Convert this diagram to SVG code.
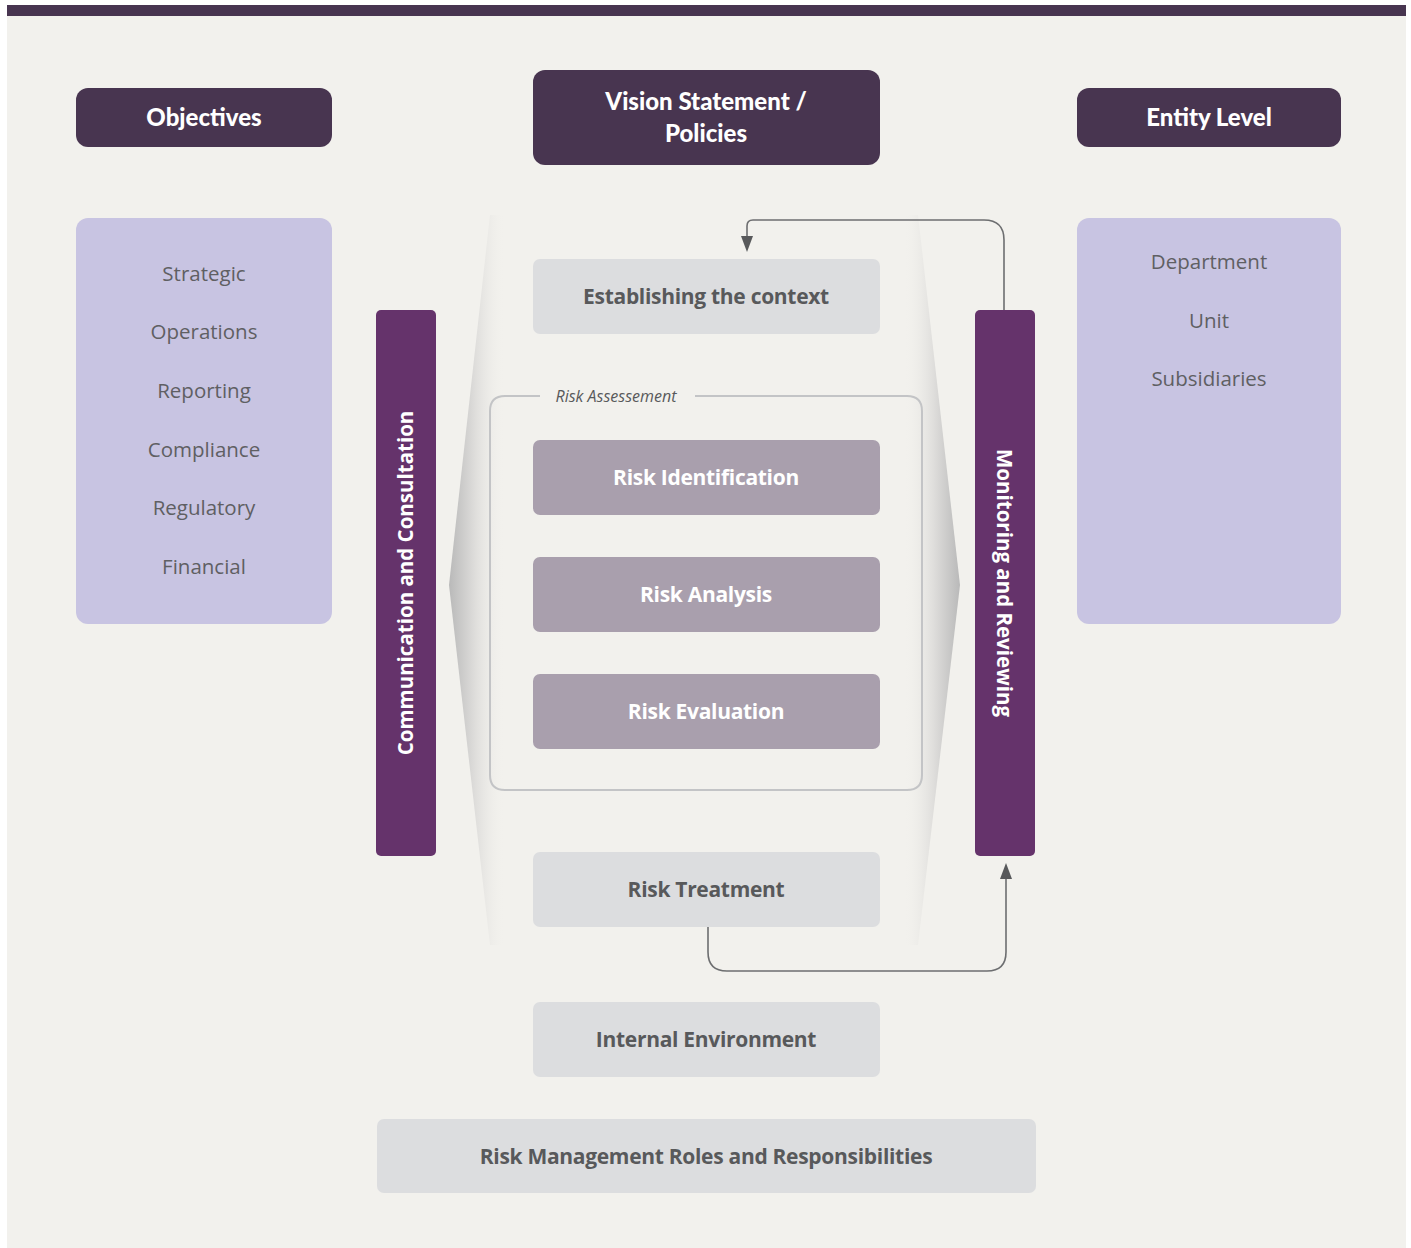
<svg xmlns="http://www.w3.org/2000/svg" width="1411" height="1248" viewBox="0 0 1411 1248">
<defs>
<linearGradient id="gl" gradientUnits="userSpaceOnUse" x1="449" y1="0" x2="505" y2="0">
<stop offset="0" stop-color="#b9b9b9"/><stop offset="0.45" stop-color="#dddcda"/><stop offset="1" stop-color="#f2f1ed" stop-opacity="0"/>
</linearGradient>
<linearGradient id="gr" gradientUnits="userSpaceOnUse" x1="960" y1="0" x2="904" y2="0">
<stop offset="0" stop-color="#b9b9b9"/><stop offset="0.45" stop-color="#dddcda"/><stop offset="1" stop-color="#f2f1ed" stop-opacity="0"/>
</linearGradient>
</defs>
<style>
.hdr{fill:#483550}
.ht{font-family:Lato,"Open Sans",sans-serif;font-weight:900;font-size:24px;fill:#ffffff;text-anchor:middle}
.lav{fill:#c8c4e2}
.lt{font-family:"Open Sans","Noto Sans",sans-serif;font-size:20.5px;fill:#5f5f63;text-anchor:middle}
.bar{fill:#65336b}
.vt{font-family:"Open Sans","Noto Sans",sans-serif;font-weight:700;font-size:20.5px;fill:#ffffff;text-anchor:middle}
.gb{fill:#dcdddf}
.gt{font-family:"Open Sans","Noto Sans",sans-serif;font-weight:700;font-size:21px;fill:#58595b;text-anchor:middle;letter-spacing:-0.3px}
.pb{fill:#a99fad}
.pt{font-family:"Open Sans","Noto Sans",sans-serif;font-weight:700;font-size:21px;fill:#ffffff;text-anchor:middle;letter-spacing:-0.3px}
.cn{fill:none;stroke:#6d6e70;stroke-width:1.6}
.ah{fill:#58595b}
</style>
<rect x="0" y="0" width="1411" height="1248" fill="#ffffff"/>
<rect x="7" y="5" width="1399" height="1243" fill="#f2f1ed"/>
<rect x="7" y="5" width="1399" height="11" fill="#483550"/>

<g id="shade">
<polygon points="490,215 449,585 490,945 520,945 520,215" fill="url(#gl)"/>
<polygon points="918,215 960,585 918,945 888,945 888,215" fill="url(#gr)"/>
</g>

<g id="objectives"><rect class="hdr" x="76" y="88" width="256" height="59" rx="12"/><text class="ht" x="204" y="126">Objectives</text></g>
<g id="vision"><rect class="hdr" x="533" y="70" width="347" height="95" rx="12"/><text class="ht" x="706" y="110">Vision Statement /</text><text class="ht" x="706" y="142">Policies</text></g>
<g id="entity"><rect class="hdr" x="1077" y="88" width="264" height="59" rx="12"/><text class="ht" x="1209" y="126">Entity Level</text></g>

<g id="objective-list"><rect class="lav" x="76" y="218" width="256" height="406" rx="12"/>
<text class="lt" x="204" y="281">Strategic</text>
<text class="lt" x="204" y="339">Operations</text>
<text class="lt" x="204" y="398">Reporting</text>
<text class="lt" x="204" y="457">Compliance</text>
<text class="lt" x="204" y="515">Regulatory</text>
<text class="lt" x="204" y="574">Financial</text>
</g>
<g id="entity-list"><rect class="lav" x="1077" y="218" width="264" height="406" rx="12"/>
<text class="lt" x="1209" y="269">Department</text>
<text class="lt" x="1209" y="328">Unit</text>
<text class="lt" x="1209" y="386">Subsidiaries</text>
</g>

<g id="communication"><rect class="bar" x="376" y="310" width="60" height="546" rx="5"/><text class="vt" transform="translate(413,583) rotate(-90)">Communication and Consultation</text></g>
<g id="monitoring"><rect class="bar" x="975" y="310" width="60" height="546" rx="5"/><text class="vt" transform="translate(997,583) rotate(90)">Monitoring and Reviewing</text></g>

<g id="risk-assessment">
<path d="M540,396 H505 Q490,396 490,411 V775 Q490,790 505,790 H907 Q922,790 922,775 V411 Q922,396 907,396 H695" fill="none" stroke="#c3c4c6" stroke-width="2"/>
<text x="616" y="402" font-family="'Open Sans','Noto Sans',sans-serif" font-style="italic" font-size="16" fill="#58595b" text-anchor="middle">Risk Assessement</text>
</g>

<g id="context"><rect class="gb" x="533" y="259" width="347" height="75" rx="7"/><text class="gt" x="706" y="304">Establishing the context</text></g>
<g id="identification"><rect class="pb" x="533" y="440" width="347" height="75" rx="7"/><text class="pt" x="706" y="485">Risk Identification</text></g>
<g id="analysis"><rect class="pb" x="533" y="557" width="347" height="75" rx="7"/><text class="pt" x="706" y="602">Risk Analysis</text></g>
<g id="evaluation"><rect class="pb" x="533" y="674" width="347" height="75" rx="7"/><text class="pt" x="706" y="719">Risk Evaluation</text></g>
<g id="treatment"><rect class="gb" x="533" y="852" width="347" height="75" rx="7"/><text class="gt" x="706" y="897">Risk Treatment</text></g>
<g id="internal"><rect class="gb" x="533" y="1002" width="347" height="75" rx="7"/><text class="gt" x="706" y="1047">Internal Environment</text></g>
<g id="roles"><rect class="gb" x="377" y="1119" width="659" height="74" rx="7"/><text class="gt" x="706" y="1164">Risk Management Roles and Responsibilities</text></g>

<g id="connectors">
<path class="cn" d="M1004,310 V240 Q1004,220 984,220 H753 Q747,220 747,226 V238"/>
<path class="ah" d="M741,236 L753,236 L747,252 Z"/>
<path class="cn" d="M708,927 V952 Q708,971 727,971 H987 Q1006,971 1006,952 V878"/>
<path class="ah" d="M1000,879 L1012,879 L1006,863 Z"/>
</g>
</svg>
